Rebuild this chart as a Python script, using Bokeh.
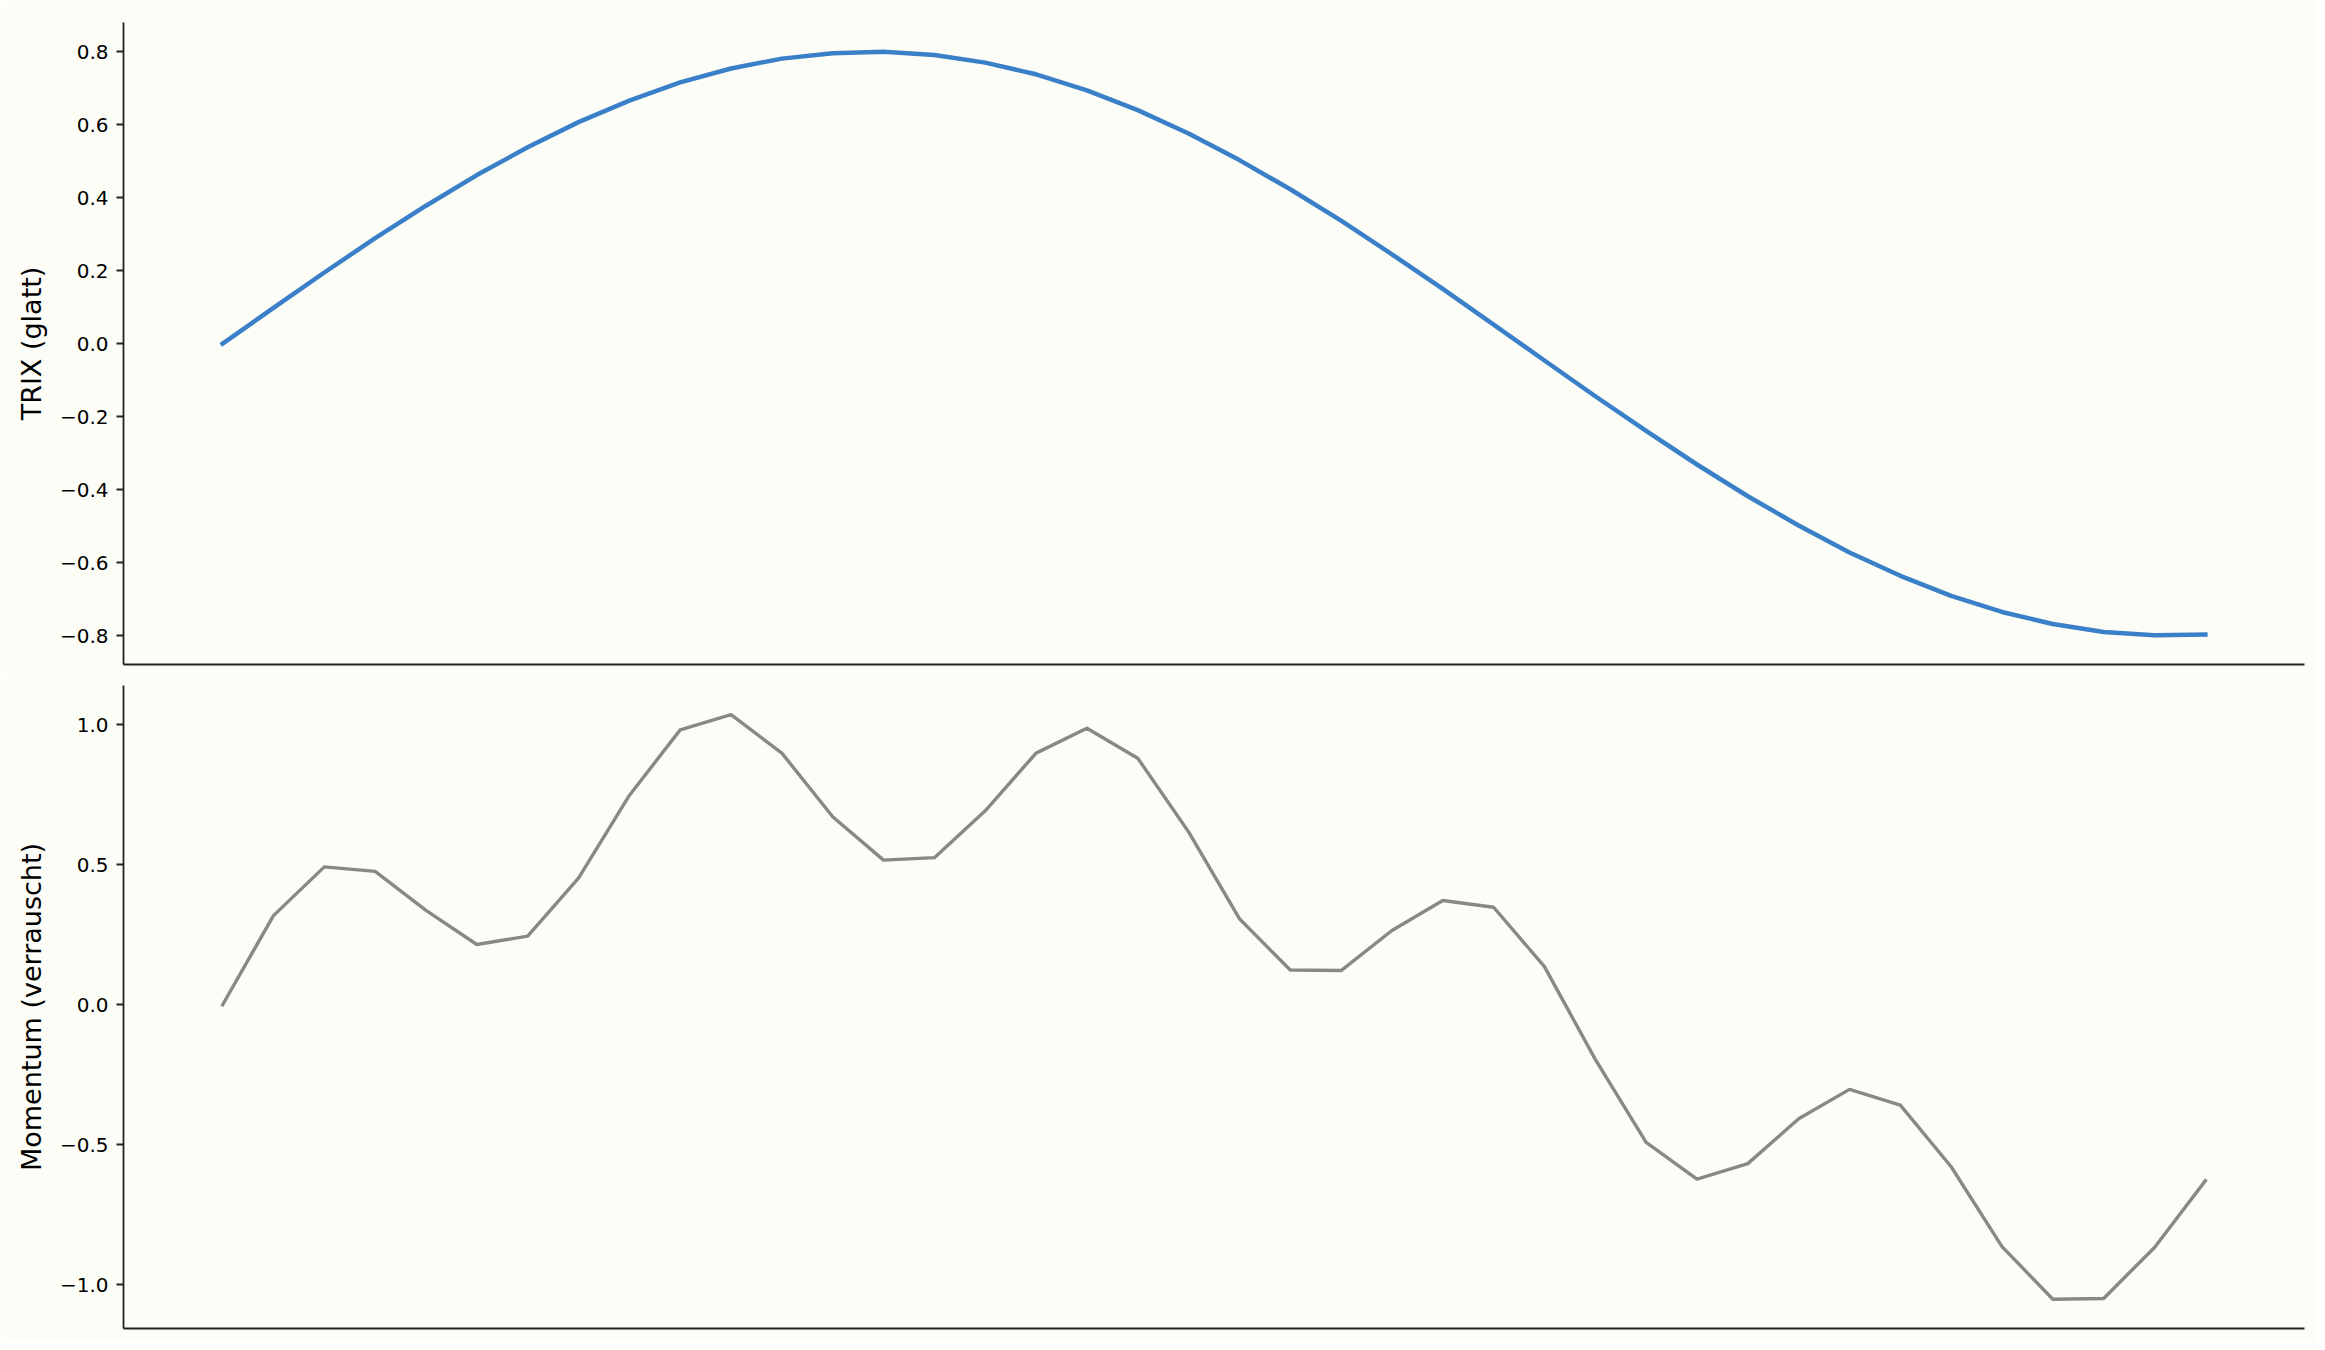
from bokeh.plotting import figure
from bokeh.layouts import column
from bokeh.models import Range1d, FixedTicker, CustomJSTickFormatter
from bokeh.embed import file_html
from bokeh.resources import INLINE

# ---- data ----
x_index = list(range(40))
trix_glatt = [0.000, 0.098, 0.195, 0.289, 0.378, 0.462, 0.538, 0.607, 0.666, 0.716,
              0.754, 0.781, 0.796, 0.800, 0.791, 0.770, 0.738, 0.694, 0.640, 0.576,
              0.503, 0.423, 0.337, 0.245, 0.150, 0.052, -0.046, -0.144, -0.239, -0.331,
              -0.418, -0.498, -0.572, -0.636, -0.691, -0.735, -0.768, -0.790, -0.799, -0.797]
momentum_verrauscht = [0.000, 0.318, 0.492, 0.476, 0.337, 0.215, 0.245, 0.452, 0.747, 0.981,
                       1.035, 0.898, 0.671, 0.516, 0.525, 0.692, 0.898, 0.987, 0.880, 0.617,
                       0.307, 0.124, 0.122, 0.265, 0.372, 0.348, 0.136, -0.195, -0.491, -0.622,
                       -0.567, -0.407, -0.302, -0.358, -0.578, -0.863, -1.051, -1.048, -0.866, -0.628]
trix_ticks = [-0.8, -0.6, -0.4, -0.2, 0.0, 0.2, 0.4, 0.6, 0.8]
momentum_ticks = [-1.0, -0.5, 0.0, 0.5, 1.0]
trix_label = "TRIX (glatt)"
momentum_label = "Momentum (verrauscht)"

BG = "#fdfdf8"
SPINE = "#222222"
FONT = "DejaVu Sans"


def padded(vals):
    lo, hi = min(vals), max(vals)
    pad = 0.05 * (hi - lo)
    return Range1d(lo - pad, hi + pad)


def make_fig(height, btop, bbottom, yvals, ticks, label):
    f = figure(width=2317, height=height, output_backend="svg", toolbar_location=None,
               x_range=padded(x_index), y_range=padded(yvals),
               min_border_left=123, min_border_right=13,
               min_border_top=btop, min_border_bottom=bbottom,
               background_fill_color=BG, border_fill_color=BG,
               outline_line_color=None)
    f.grid.visible = False
    # x axis: spine only
    xa = f.xaxis[0]
    xa.ticker = FixedTicker(ticks=[])
    xa.major_label_text_font_size = "0px"
    xa.major_label_standoff = 0
    xa.major_tick_out = 0
    xa.major_tick_in = 0
    xa.minor_tick_out = 0
    xa.minor_tick_in = 0
    xa.axis_line_color = SPINE
    xa.axis_line_width = 1.8
    # y axis
    ya = f.yaxis[0]
    ya.ticker = FixedTicker(ticks=ticks)
    ya.formatter = CustomJSTickFormatter(
        code="return (tick < -1e-9 ? '\u2212' : '') + Math.abs(tick).toFixed(1);")
    ya.axis_line_color = SPINE
    ya.axis_line_width = 1.8
    ya.major_tick_line_color = SPINE
    ya.major_tick_line_width = 1.8
    ya.major_tick_in = 0
    ya.major_tick_out = 7
    ya.minor_tick_line_color = None
    ya.major_label_standoff = 8
    ya.major_label_text_font = FONT
    ya.major_label_text_font_size = "20px"
    ya.major_label_text_color = "#000000"
    ya.axis_label = label
    ya.axis_label_text_font = FONT
    ya.axis_label_text_font_style = "normal"
    ya.axis_label_text_font_size = "27px"
    ya.axis_label_text_color = "#000000"
    ya.axis_label_standoff = 10
    return f


top = make_fig(674, 22, 10, trix_glatt, trix_ticks, trix_label)
top.line(x_index, trix_glatt, line_color="#3a80c8", line_width=4.5,
         line_join="round", line_cap="square")

bottom = make_fig(668, 11, 14, momentum_verrauscht, momentum_ticks, momentum_label)
bottom.line(x_index, momentum_verrauscht, line_color="#888888", line_width=3.4,
            line_join="round", line_cap="square")

p = column(top, bottom)

open("out.html", "w").write(file_html(p, INLINE))
